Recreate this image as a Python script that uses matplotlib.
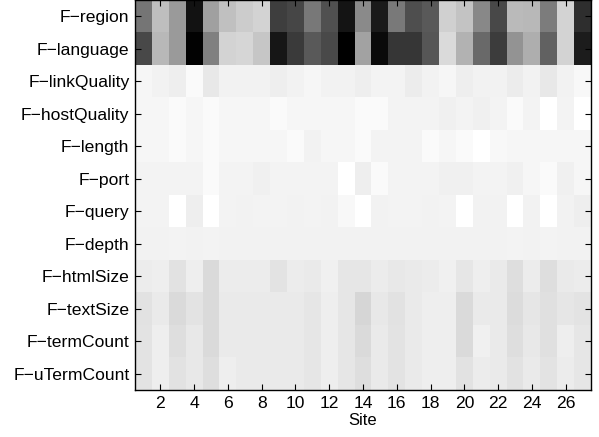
import matplotlib
matplotlib.use("Agg")
import matplotlib.pyplot as plt
import numpy as np

plt.rcParams['font.family'] = ['Liberation Sans', 'DejaVu Sans']

features = ['F\u2212region', 'F\u2212language', 'F\u2212linkQuality', 'F\u2212hostQuality',
            'F\u2212length', 'F\u2212port', 'F\u2212query', 'F\u2212depth',
            'F\u2212htmlSize', 'F\u2212textSize', 'F\u2212termCount', 'F\u2212uTermCount']
sites = np.arange(1, 28)

# per-feature weights across the 27 sites (0 = black, 255 = white)
region = [117, 190, 154, 18, 160, 192, 204, 212, 62, 70, 120, 80, 20, 138,
          26, 122, 78, 90, 208, 196, 136, 72, 186, 184, 124, 212, 46]
language = [72, 184, 154, 2, 128, 212, 214, 198, 22, 58, 90, 74, 0, 162,
            10, 54, 54, 86, 218, 178, 106, 60, 148, 174, 98, 212, 28]
link_quality = [246, 242, 238, 250, 232, 242, 242, 242, 238, 242, 246, 242, 242, 238,
                244, 244, 236, 242, 246, 238, 242, 242, 236, 242, 232, 242, 248]
host_quality = [246, 246, 250, 246, 250, 246, 246, 246, 250, 246, 246, 246, 246, 250,
                250, 244, 244, 244, 240, 244, 240, 244, 250, 244, 255, 244, 255]
length = [246, 246, 250, 246, 250, 246, 246, 246, 246, 250, 242, 246, 246, 250,
          244, 244, 244, 250, 246, 250, 255, 248, 246, 246, 246, 246, 246]
port = [244, 244, 244, 244, 250, 244, 244, 240, 244, 244, 244, 244, 255, 238,
        250, 244, 244, 244, 240, 240, 244, 244, 240, 246, 250, 240, 246]
query = [244, 244, 255, 238, 255, 244, 242, 244, 244, 242, 244, 242, 248, 255,
         242, 244, 244, 242, 244, 255, 242, 242, 255, 242, 255, 242, 238]
depth = [242, 242, 244, 242, 244, 242, 242, 242, 242, 242, 242, 242, 242, 242,
         242, 242, 242, 242, 242, 242, 242, 242, 244, 242, 244, 242, 242]
html_size = [236, 238, 226, 238, 218, 236, 236, 236, 228, 236, 234, 240, 230, 230,
             236, 232, 234, 236, 240, 230, 238, 234, 222, 236, 222, 234, 236]
text_size = [226, 234, 218, 228, 218, 234, 234, 234, 234, 234, 230, 238, 230, 214,
             232, 226, 234, 238, 238, 218, 234, 234, 220, 230, 224, 230, 228]
term_count = [228, 238, 222, 232, 218, 234, 234, 234, 234, 234, 230, 238, 230, 218,
              234, 228, 234, 238, 238, 218, 240, 234, 222, 232, 224, 238, 230]
uterm_count = [228, 238, 226, 232, 222, 238, 234, 234, 234, 234, 230, 238, 230, 222,
               234, 228, 234, 238, 238, 226, 236, 234, 226, 234, 228, 236, 230]

data = np.array([region, language, link_quality, host_quality, length, port, query,
                 depth, html_size, text_size, term_count, uterm_count]) / 255.0

fig = plt.figure(figsize=(5.99, 4.37), dpi=100)
ax = fig.add_axes([135 / 599, 1 - 390 / 437, 456 / 599, 390 / 437])

ax.imshow(data, cmap='gray', vmin=0, vmax=1, aspect='auto', interpolation='nearest',
          extent=[0.5, 27.5, 12.5, 0.5])

ax.set_xticks(sites[1::2])
ax.set_yticks(np.arange(1, 13))
ax.set_yticklabels(features)
ax.set_xlabel('Site', fontsize=12, labelpad=2)
ax.tick_params(axis='both', direction='in', length=4, width=0.8, labelsize=12.6,
               top=True, right=True, pad=4)
for s in ax.spines.values():
    s.set_linewidth(1.0)

fig.savefig('out.png', dpi=100)
